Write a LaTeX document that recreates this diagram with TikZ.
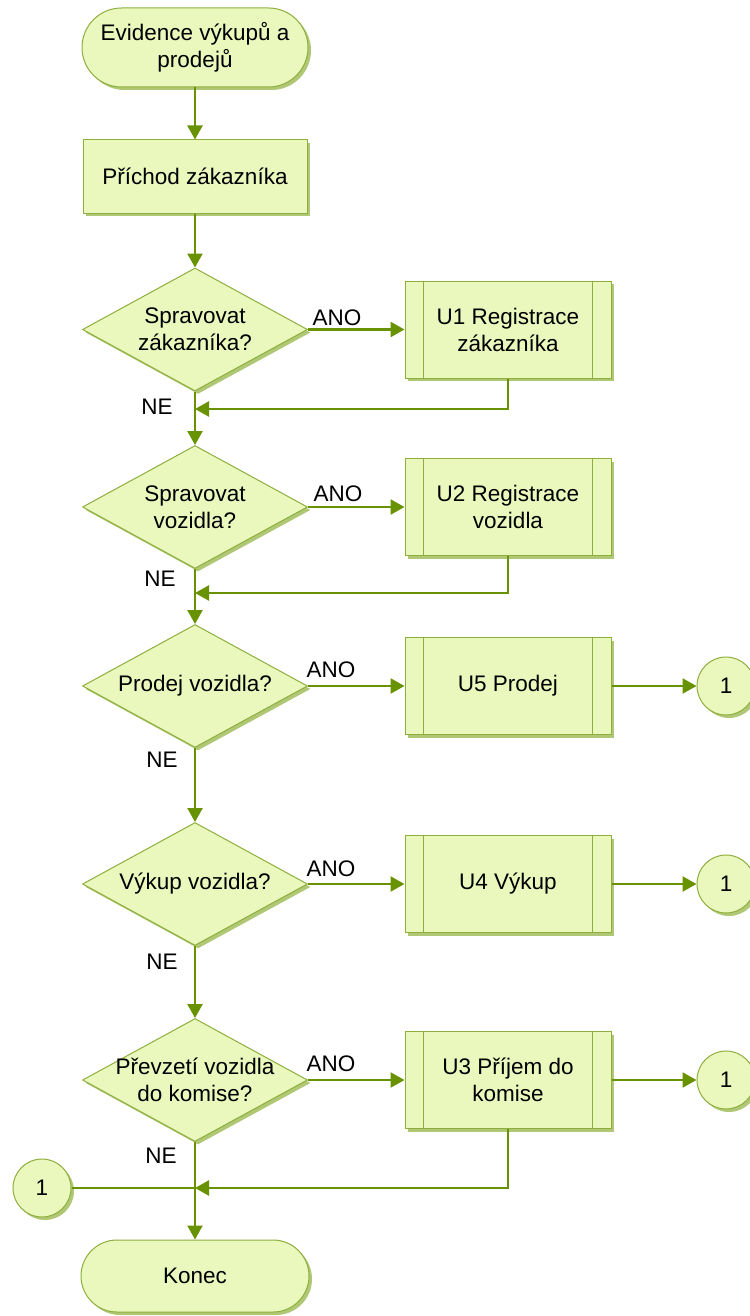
\documentclass[tikz,border=0pt]{standalone}
\usepackage{fontspec}
\setmainfont{Liberation Sans}
\usetikzlibrary{shapes.geometric,shapes.misc,arrows.meta,shadows}
\definecolor{fillg}{RGB}{234,248,190}
\definecolor{bord}{RGB}{142,174,62}
\definecolor{shad}{RGB}{176,200,118}
\definecolor{linec}{RGB}{104,146,0}
\begin{document}
\begin{tikzpicture}[x=1pt,y=-1pt,
 base/.style={draw=bord, fill=fillg, line width=1pt,
   drop shadow={shadow xshift=3pt, shadow yshift=-3pt, fill=shad, opacity=1},
   font=\fontsize{22.5}{27}\selectfont, align=center, inner sep=0pt},
 term/.style={base, rounded rectangle, minimum width=226pt, minimum height=79pt},
 proc/.style={base, rectangle, minimum width=224pt, minimum height=73pt},
 sub/.style={base, rectangle, minimum width=206pt, minimum height=97pt},
 dec/.style={base, diamond, minimum width=225pt, minimum height=123pt, aspect=1.83},
 conn/.style={base, circle, minimum size=58pt},
 txt/.style={font=\fontsize{22.5}{27}\selectfont, align=center, inner sep=0pt},
 lbl/.style={font=\fontsize{22.5}{27}\selectfont, inner sep=0pt, anchor=base},
 flow/.style={draw=linec, line width=2.5pt, -{Triangle[length=14pt,width=15pt]}},
 flowplain/.style={draw=linec, line width=2.5pt},
 subline/.style={draw=bord, line width=1pt},
]
\useasboundingbox (0,0) rectangle (749,1316);

% main column
\node[term] (start) at (195,47.5) {Evidence výkupů a\\prodejů};
\node[proc] (p1) at (195,176.5) {Příchod zákazníka};
\node[dec] (d1) at (195,329.5) {};
\node[txt] (t1) at (d1.center) {Spravovat\\zákazníka?};
\node[dec] (d2) at (195,507) {};
\node[txt] (t2) at (d2.center) {Spravovat\\vozidla?};
\node[dec] (d3) at (195,686) {};
\node[txt] (t3) at (d3.center) {Prodej vozidla?};
\node[dec] (d4) at (195,884) {};
\node[txt] (t4) at (d4.center) {Výkup vozidla?};
\node[dec] (d5) at (195,1080) {};
\node[txt] (t5) at (d5.center) {Převzetí vozidla\\do komise?};
\node[term, minimum width=228pt, minimum height=72pt] (konec) at (195,1276) {Konec};

% subprocesses
\node[sub] (u1) at (508,329.5) {U1 Registrace\\zákazníka};
\node[sub] (u2) at (508,507) {U2 Registrace\\vozidla};
\node[sub] (u5) at (508,686) {U5 Prodej};
\node[sub] (u4) at (508,884) {U4 Výkup};
\node[sub] (u3) at (508,1080) {U3 Příjem do\\komise};
\foreach \u in {u1,u2,u5,u4,u3}{
  \draw[subline] ([xshift=19pt]\u.north west) -- ([xshift=19pt]\u.south west);
  \draw[subline] ([xshift=-19pt]\u.north east) -- ([xshift=-19pt]\u.south east);
}

% connectors (circles)
\node[conn] (c1) at (726,686) {1};
\node[conn] (c2) at (726,884) {1};
\node[conn] (c3) at (726,1080) {1};
\node[conn] (c0) at (42,1188) {1};

% junctions
\coordinate (j1) at (195,409);
\coordinate (j2) at (195,593);
\coordinate (j5) at (195,1188);

% flows
\draw[flow] (start.south) -- (p1.north);
\draw[flow] (p1.south) -- (d1.north);
\draw[flow] (d1.east) -- (u1.west);
\draw[flow] (d1.south) -- (d2.north);
\draw[flow] (u1.south) |- (j1);
\draw[flow] (d2.east) -- (u2.west);
\draw[flow] (d2.south) -- (d3.north);
\draw[flow] (u2.south) |- (j2);
\draw[flow] (d3.east) -- (u5.west);
\draw[flow] (u5.east) -- (c1.west);
\draw[flow] (d3.south) -- (d4.north);
\draw[flow] (d4.east) -- (u4.west);
\draw[flow] (u4.east) -- (c2.west);
\draw[flow] (d4.south) -- (d5.north);
\draw[flow] (d5.east) -- (u3.west);
\draw[flow] (u3.east) -- (c3.west);
\draw[flow] (d5.south) -- (konec.north);
\draw[flowplain] (c0.east) -- (j5);
\draw[flow] (u3.south) |- (j5);

% labels
\node[lbl] (a1) at (337,325) {ANO};
\node[lbl] (a2) at (338,501) {ANO};
\node[lbl] (a3) at (331,677) {ANO};
\node[lbl] (a4) at (331,876) {ANO};
\node[lbl] (a5) at (331,1071) {ANO};
\node[lbl] (n1) at (157,414) {NE};
\node[lbl] (n2) at (160,586) {NE};
\node[lbl] (n3) at (162,767) {NE};
\node[lbl] (n4) at (162,969) {NE};
\node[lbl] (n5) at (161,1163) {NE};
\end{tikzpicture}
\end{document}
